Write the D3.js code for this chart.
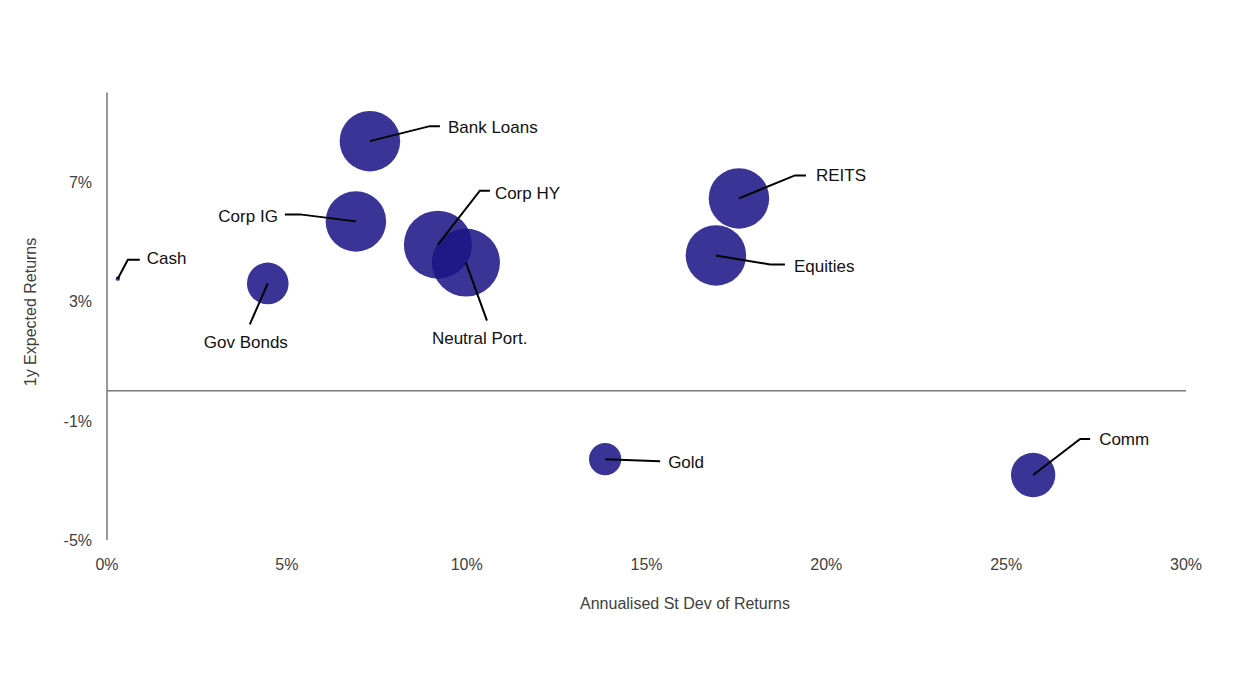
<!DOCTYPE html>
<html><head><meta charset="utf-8">
<script src="https://cdn.jsdelivr.net/npm/d3@7"></script>
<style>body{margin:0;background:#fff}text{font-family:"Liberation Sans",Arial,sans-serif}</style>
</head><body><svg id="c" width="1248" height="700"></svg>
<script>
const names = ["Cash","Gov Bonds","Corp IG","Bank Loans","Corp HY","Neutral Port.","REITS","Equities","Gold","Comm"];
const stdev = [0.3,4.47,6.92,7.31,9.2,9.98,17.57,16.93,13.85,25.75];
const returns = [3.76,3.6,5.68,8.37,4.9,4.3,6.45,4.54,-2.29,-2.82];
const sizes = [0.05,4.5,9.5,9.5,12,12,9.5,9.5,2.7,5.1];
const xTicks = [0,5,10,15,20,25,30];
const yTicks = [-5,-1,3,7];

// label annotation layout: [elbow dx, elbow dy, end dx, text dx, text dy, anchor] relative to bubble center (px)
const ann = {
 "Cash":[10,-19,22,29,-15,"start"],
 "Gov Bonds":[-18,41,-18,-64,65,"start"],
 "Corp IG":[-56,-7,-71,-78,1,"end"],
 "Bank Loans":[60,-15,70,78,-8,"start"],
 "Corp HY":[42,-54,52,57,-46,"start"],
 "Neutral Port.":[21,58,21,-34,81,"start"],
 "REITS":[56,-23,67,77,-17,"start"],
 "Equities":[54,9,69,78,17,"start"],
 "Gold":[55,2,55,63,9,"start"],
 "Comm":[47,-36,57,66,-30,"start"]
};

const svg = d3.select("#c");
const x = d3.scaleLinear().domain([0,30]).range([107,1186]);
const y = d3.scaleLinear().domain([-5,7]).range([540,182]);
const r = d3.scaleSqrt().domain([0,12]).range([0,34]);

svg.append("line").attr("x1",x(0)).attr("x2",x(0)).attr("y1",y(10)).attr("y2",y(-5)).attr("stroke","#777").attr("stroke-width",1.5);
svg.append("line").attr("x1",x(0)).attr("x2",x(30)).attr("y1",y(0)).attr("y2",y(0)).attr("stroke","#777").attr("stroke-width",1.5);

svg.selectAll(".xt").data(xTicks).join("text").attr("x",d=>x(d)).attr("y",570).attr("text-anchor","middle")
 .attr("font-size",16).attr("fill","#404040").text(d=>d+"%");
svg.selectAll(".yt").data(yTicks).join("text").attr("x",92).attr("y",d=>y(d)+6).attr("text-anchor","end")
 .attr("font-size",16).attr("fill","#404040").text(d=>d+"%");

svg.append("text").attr("x",685).attr("y",609).attr("text-anchor","middle").attr("font-size",16).attr("fill","#404040").text("Annualised St Dev of Returns");
svg.append("text").attr("transform","translate(36,312) rotate(-90)").attr("text-anchor","middle").attr("font-size",16).attr("fill","#404040").text("1y Expected Returns");

const data = names.map((n,i)=>({n,sx:stdev[i],ry:returns[i],s:sizes[i]}));
svg.selectAll("circle").data(data).join("circle").attr("cx",d=>x(d.sx)).attr("cy",d=>y(d.ry)).attr("r",d=>Math.max(2,r(d.s)))
 .attr("fill","#1c1685").attr("fill-opacity",0.87);

data.forEach(d=>{
 const a=ann[d.n], cx=x(d.sx), cy=y(d.ry);
 svg.append("polyline").attr("points",`${cx},${cy} ${cx+a[0]},${cy+a[1]} ${cx+a[2]},${cy+a[1]}`).attr("fill","none").attr("stroke","#000").attr("stroke-width",2);
 svg.append("text").attr("x",cx+a[3]).attr("y",cy+a[4]).attr("text-anchor",a[5]).attr("font-size",17).attr("fill","#111").text(d.n);
});
</script></body></html>
